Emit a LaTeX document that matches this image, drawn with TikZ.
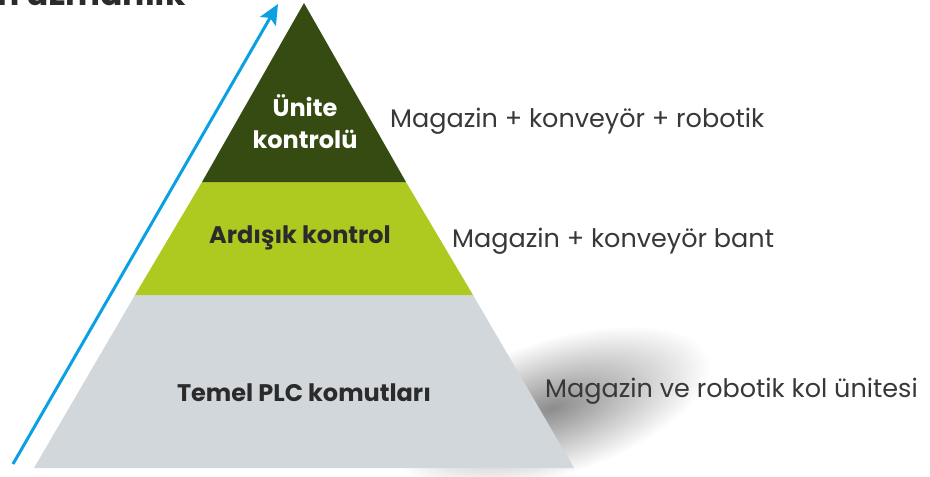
\documentclass[tikz,border=0pt]{standalone}
\usepackage{fontspec}
\setmainfont{Poppins}
\usetikzlibrary{arrows.meta}
\definecolor{tierdark}{HTML}{364B12}
\definecolor{tierlime}{HTML}{AEC91F}
\definecolor{tiergrey}{HTML}{D2D7DB}
\definecolor{arrowblue}{HTML}{0BA0E2}
\definecolor{txtgrey}{HTML}{2B2B2B}
\definecolor{sidegrey}{HTML}{383838}
\tikzset{
  tierlbl/.style={font=\bfseries\fontsize{24}{32}\selectfont, text=txtgrey, align=center},
  sidelbl/.style={font=\fontsize{25.5}{30}\selectfont, text=sidegrey, anchor=base west, inner sep=0pt},
}
\begin{document}
\begin{tikzpicture}[x=1pt,y=-1pt]
  \useasboundingbox (0,0) rectangle (930,477);
  % soft shadow behind the base
  \shade[inner color=black!45, outer color=white, transform canvas={rotate around={18:(552,408)}}]
    (552,408) ellipse [x radius=165, y radius=68];
  % pyramid tiers
  \fill[tiergrey] (135,295) -- (473,295) -- (574,468) -- (34,468) -- cycle;
  \fill[tierlime] (202,182) -- (406,182) -- (473,295) -- (135,295) -- cycle;
  \fill[tierdark] (304,3) -- (406,182) -- (202,182) -- cycle;
  \node (unite) [tierlbl, text=white] at (305,122) {Ünite\\kontrolü};
  \node (ardisik) [tierlbl] at (300,238) {Ardışık kontrol};
  \node (temel) [tierlbl] at (304,393) {Temel PLC komutları};
  % labels on the right
  \node (mag1) [sidelbl] at (390,127) {Magazin + konveyör + robotik};
  \node (mag2) [sidelbl] at (452,247) {Magazin + konveyör bant};
  \node (mag3) [sidelbl] at (545,397) {Magazin ve robotik kol ünitesi};
  % arrow
  \coordinate (arrlow) at (13,464);
  \coordinate (arrtop) at (278,4);
  \draw[arrowblue, line width=3pt, -{Stealth[length=20pt,width=18pt,inset=4pt]}] (arrlow) -- (arrtop);
  \node (uzman) [anchor=base east, inner sep=0pt, font=\bfseries\fontsize{33}{33}\selectfont, text=txtgrey] at (186,5) {Artan uzmanlık};
\end{tikzpicture}
\end{document}
